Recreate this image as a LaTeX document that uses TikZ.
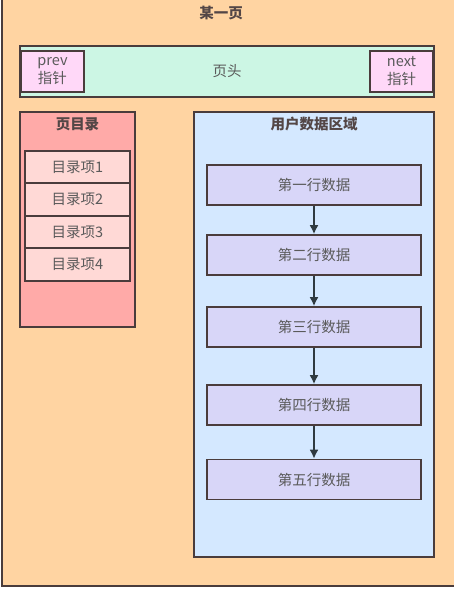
\documentclass[tikz,border=0pt]{standalone}
\usepackage{fontspec}
\setmainfont{Noto Sans CJK SC}
\usetikzlibrary{positioning,arrows.meta}
\definecolor{pagebg}{HTML}{FFD4A2}
\definecolor{headbg}{HTML}{CCF6E4}
\definecolor{ptrbg}{HTML}{FFD8F8}
\definecolor{dirbg}{HTML}{FFAAA8}
\definecolor{itembg}{HTML}{FFD9D6}
\definecolor{databg}{HTML}{D4E8FF}
\definecolor{rowbg}{HTML}{D8D6F8}
\definecolor{edge}{HTML}{4A3C3C}
\definecolor{arrowc}{HTML}{2F3A40}
\definecolor{txt}{HTML}{5A5A5A}

\begin{document}
\begin{tikzpicture}
        [x=1pt, y=-1pt,
        font=\fontsize{14.5}{18}\selectfont,
        every node/.style={rectangle, draw=edge, line width=1.6pt,
        text=txt, inner sep=0pt, align=center},
        title/.style={draw=none, font=\fontsize{14.5}{18}\selectfont\bfseries, text=edge!95},
        item/.style={fill=itembg, minimum width=105pt, minimum height=32.5pt},
        datarow/.style={fill=rowbg, minimum width=214pt, minimum height=40pt},
        link/.style={draw=arrowc, line width=2.2pt, -{Latex[length=9pt,width=9pt]}}]
        \useasboundingbox (0,0) rectangle (454,592);
        \fill[white] (0,0) rectangle (454,592);
        \node (page) [fill=pagebg, minimum width=480pt, minimum height=600pt,
            anchor=south west] at (1,587) {};
        \node[title] (pagetitle) at (221,13) {某一页};
        % page header
        \node (head) [fill=headbg, minimum width=414pt, minimum height=51pt] at (227,71.5) {页头};
        \node (prev) [fill=ptrbg, minimum width=63pt, minimum height=41pt] at (52.5,71.5) {prev\\指针};
        \node (next) [fill=ptrbg, minimum width=63pt, minimum height=41pt] at (401.5,71.5) {next\\指针};
        % page directory
        \node (dir) [fill=dirbg, minimum width=115pt, minimum height=215pt] at (77.5,219.5) {};
        \node[title] (dirtitle) at (77.5,124) {页目录};
        \foreach \i/\y in {1/167,2/199.5,3/232,4/264.5}
            \node[item] (item\i) at (77.5,\y) {目录项\i};
        % user data
        \node (data) [fill=databg, minimum width=240pt, minimum height=445pt] at (314,334.5) {};
        \node[title] (datatitle) at (314,124) {用户数据区域};
        \foreach \i/\y/\t in {1/185/第一行数据,2/255/第二行数据,3/327/第三行数据,4/405/第四行数据,5/479.5/第五行数据}
            \node[datarow] (row\i) at (314,\y) {\t};
        \foreach \i/\j in {1/2,2/3,3/4,4/5}
            \draw[link] (row\i) -- (row\j);
\end{tikzpicture}
\end{document}
